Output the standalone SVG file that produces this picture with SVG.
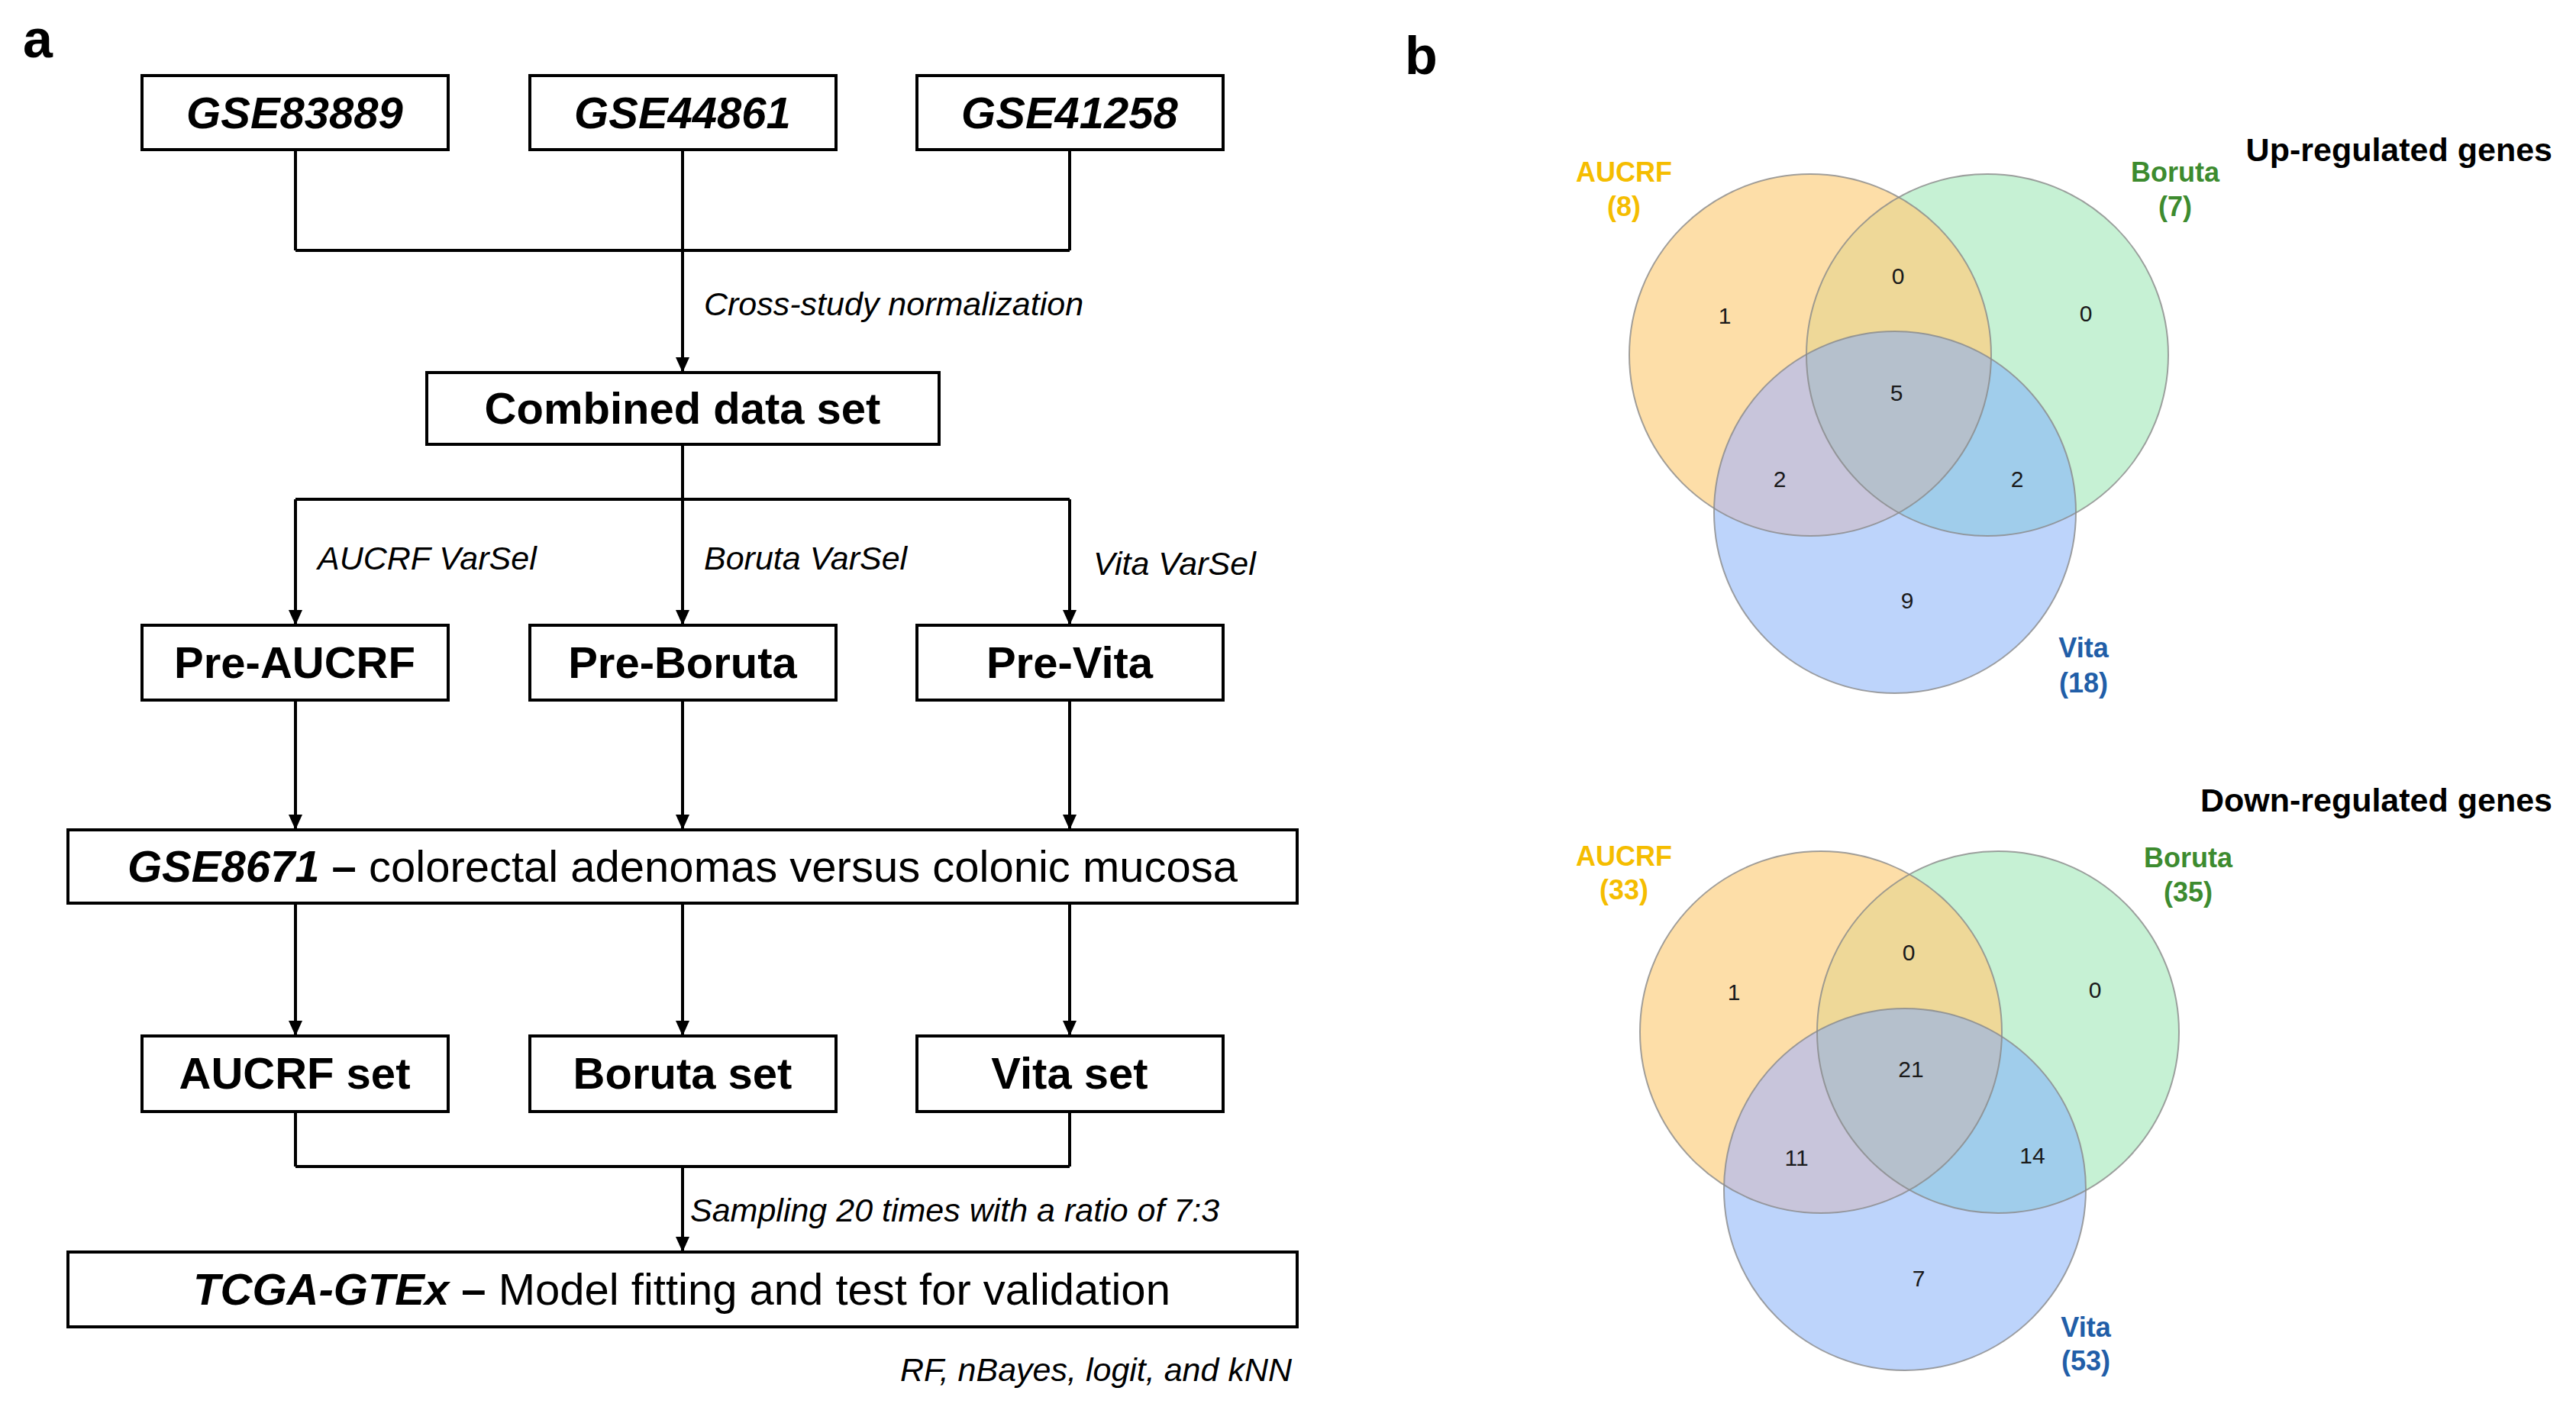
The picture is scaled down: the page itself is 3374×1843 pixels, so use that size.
<svg xmlns="http://www.w3.org/2000/svg" width="3374" height="1843" viewBox="0 0 3374 1843">
<style>
text{font-family:"Liberation Sans",Arial,sans-serif;}
.box{fill:#fff;stroke:#000;stroke-width:4;}
.lbl{font-size:58px;font-weight:bold;text-anchor:middle;fill:#000;}
.lbli{font-size:58px;font-weight:bold;font-style:italic;text-anchor:middle;fill:#000;}
.wide{font-size:58px;text-anchor:middle;fill:#000;}
.note{font-size:43px;font-style:italic;fill:#000;}
.ln{fill:none;stroke:#000;stroke-width:4;}
.arr{fill:none;stroke:#000;stroke-width:4;marker-end:url(#ah);}
.panel{font-size:70px;font-weight:bold;fill:#000;}
.title{font-size:43px;font-weight:bold;fill:#000;}
.vl{font-size:36px;font-weight:bold;text-anchor:middle;}
.num{font-size:30px;text-anchor:middle;fill:#1a1a1a;}
.ring{fill:none;stroke:#8a8a8a;stroke-opacity:0.8;stroke-width:2;}
.cA{fill:#F5BD00;}.cB{fill:#3D8B2F;}.cC{fill:#215EA8;}
</style>
<defs>
<marker id="ah" markerUnits="userSpaceOnUse" markerWidth="20" markerHeight="20" viewBox="0 0 20 20" refX="20" refY="10" orient="auto">
<path d="M0,1 L20,10 L0,19 Z" fill="#000"/>
</marker>
<clipPath id="uA"><circle cx="2371" cy="465" r="237"/></clipPath>
<clipPath id="uB"><circle cx="2603" cy="465" r="237"/></clipPath>
<clipPath id="dA"><circle cx="2385" cy="1352" r="237"/></clipPath>
<clipPath id="dB"><circle cx="2617" cy="1352" r="237"/></clipPath>
</defs>
<rect width="3374" height="1843" fill="#fff"/>
<text class="panel" x="30" y="75">a</text>
<text class="panel" x="1840" y="97">b</text>
<g id="connectors">
<path class="ln" d="M387,196 V328 M1401,196 V328 M387,328 H1401"/>
<path class="arr" d="M894,196 V488"/>
<path class="ln" d="M894,582 V654 M387,654 H1401"/>
<path class="arr" d="M387,654 V819"/>
<path class="arr" d="M894,654 V819"/>
<path class="arr" d="M1401,654 V819"/>
<path class="arr" d="M387,917 V1087"/>
<path class="arr" d="M894,917 V1087"/>
<path class="arr" d="M1401,917 V1087"/>
<path class="arr" d="M387,1183 V1357"/>
<path class="arr" d="M894,1183 V1357"/>
<path class="arr" d="M1401,1183 V1357"/>
<path class="ln" d="M387,1456 V1528 M1401,1456 V1528 M387,1528 H1401"/>
<path class="arr" d="M894,1528 V1640"/>
<text class="note" x="922" y="413">Cross-study normalization</text>
<text class="note" x="416" y="746">AUCRF VarSel</text>
<text class="note" x="922" y="746">Boruta VarSel</text>
<text class="note" x="1432" y="753">Vita VarSel</text>
<text class="note" x="904" y="1600">Sampling 20 times with a ratio of 7:3</text>
<text class="note" x="1692" y="1809" text-anchor="end">RF, nBayes, logit, and kNN</text>
</g>
<g id="gse83889"><rect class="box" x="186" y="99" width="401" height="97"/><text class="lbli" x="386" y="168">GSE83889</text></g>
<g id="gse44861"><rect class="box" x="694" y="99" width="401" height="97"/><text class="lbli" x="894" y="168">GSE44861</text></g>
<g id="gse41258"><rect class="box" x="1201" y="99" width="401" height="97"/><text class="lbli" x="1401" y="168">GSE41258</text></g>
<g id="combined"><rect class="box" x="559" y="488" width="671" height="94"/><text class="lbl" x="894" y="555">Combined data set</text></g>
<g id="pre-aucrf"><rect class="box" x="186" y="819" width="401" height="98"/><text class="lbl" x="386" y="888">Pre-AUCRF</text></g>
<g id="pre-boruta"><rect class="box" x="694" y="819" width="401" height="98"/><text class="lbl" x="894" y="888">Pre-Boruta</text></g>
<g id="pre-vita"><rect class="box" x="1201" y="819" width="401" height="98"/><text class="lbl" x="1401" y="888">Pre-Vita</text></g>
<g id="gse8671"><rect class="box" x="89" y="1087" width="1610" height="96"/><text class="wide" x="894" y="1155"><tspan font-weight="bold" font-style="italic">GSE8671</tspan><tspan font-weight="bold"> – </tspan>colorectal adenomas versus colonic mucosa</text></g>
<g id="aucrf-set"><rect class="box" x="186" y="1357" width="401" height="99"/><text class="lbl" x="386" y="1426">AUCRF set</text></g>
<g id="boruta-set"><rect class="box" x="694" y="1357" width="401" height="99"/><text class="lbl" x="894" y="1426">Boruta set</text></g>
<g id="vita-set"><rect class="box" x="1201" y="1357" width="401" height="99"/><text class="lbl" x="1401" y="1426">Vita set</text></g>
<g id="tcga"><rect class="box" x="89" y="1640" width="1610" height="98"/><text class="wide" x="893" y="1709"><tspan font-weight="bold" font-style="italic">TCGA-GTEx</tspan><tspan font-weight="bold"> – </tspan>Model fitting and test for validation</text></g>

<g id="venn-up">
<circle cx="2371" cy="465" r="237" fill="#FDDEA8"/>
<circle cx="2603" cy="465" r="237" fill="#C6F1D4"/>
<circle cx="2482" cy="671" r="237" fill="#BDD4FB"/>
<circle cx="2603" cy="465" r="237" fill="#EED898" clip-path="url(#uA)"/>
<circle cx="2482" cy="671" r="237" fill="#C8C5DB" clip-path="url(#uA)"/>
<circle cx="2482" cy="671" r="237" fill="#A0CDEB" clip-path="url(#uB)"/>
<g clip-path="url(#uA)"><circle cx="2482" cy="671" r="237" fill="#B5C0CC" clip-path="url(#uB)"/></g>
<circle class="ring" cx="2371" cy="465" r="237"/>
<circle class="ring" cx="2603" cy="465" r="237"/>
<circle class="ring" cx="2482" cy="671" r="237"/>
<text class="num" x="2259" y="424">1</text>
<text class="num" x="2486" y="372">0</text>
<text class="num" x="2732" y="421">0</text>
<text class="num" x="2484" y="525">5</text>
<text class="num" x="2331" y="638">2</text>
<text class="num" x="2642" y="638">2</text>
<text class="num" x="2498" y="797">9</text>
<text class="vl cA" x="2127" y="238">AUCRF</text><text class="vl cA" x="2127" y="283">(8)</text>
<text class="vl cB" x="2849" y="238">Boruta</text><text class="vl cB" x="2849" y="283">(7)</text>
<text class="vl cC" x="2729" y="861">Vita</text><text class="vl cC" x="2729" y="907">(18)</text>
<text class="title" x="3343" y="211" text-anchor="end">Up-regulated genes</text>
</g>

<g id="venn-down">
<circle cx="2385" cy="1352" r="237" fill="#FDDEA8"/>
<circle cx="2617" cy="1352" r="237" fill="#C6F1D4"/>
<circle cx="2495" cy="1558" r="237" fill="#BDD4FB"/>
<circle cx="2617" cy="1352" r="237" fill="#EED898" clip-path="url(#dA)"/>
<circle cx="2495" cy="1558" r="237" fill="#C8C5DB" clip-path="url(#dA)"/>
<circle cx="2495" cy="1558" r="237" fill="#A0CDEB" clip-path="url(#dB)"/>
<g clip-path="url(#dA)"><circle cx="2495" cy="1558" r="237" fill="#B5C0CC" clip-path="url(#dB)"/></g>
<circle class="ring" cx="2385" cy="1352" r="237"/>
<circle class="ring" cx="2617" cy="1352" r="237"/>
<circle class="ring" cx="2495" cy="1558" r="237"/>
<text class="num" x="2271" y="1310">1</text>
<text class="num" x="2500" y="1258">0</text>
<text class="num" x="2744" y="1307">0</text>
<text class="num" x="2503" y="1411">21</text>
<text class="num" x="2353" y="1527">11</text>
<text class="num" x="2662" y="1524">14</text>
<text class="num" x="2513" y="1685">7</text>
<text class="vl cA" x="2127" y="1134">AUCRF</text><text class="vl cA" x="2127" y="1178">(33)</text>
<text class="vl cB" x="2866" y="1136">Boruta</text><text class="vl cB" x="2866" y="1181">(35)</text>
<text class="vl cC" x="2732" y="1751">Vita</text><text class="vl cC" x="2732" y="1795">(53)</text>
<text class="title" x="3343" y="1063" text-anchor="end">Down-regulated genes</text>
</g>
</svg>
